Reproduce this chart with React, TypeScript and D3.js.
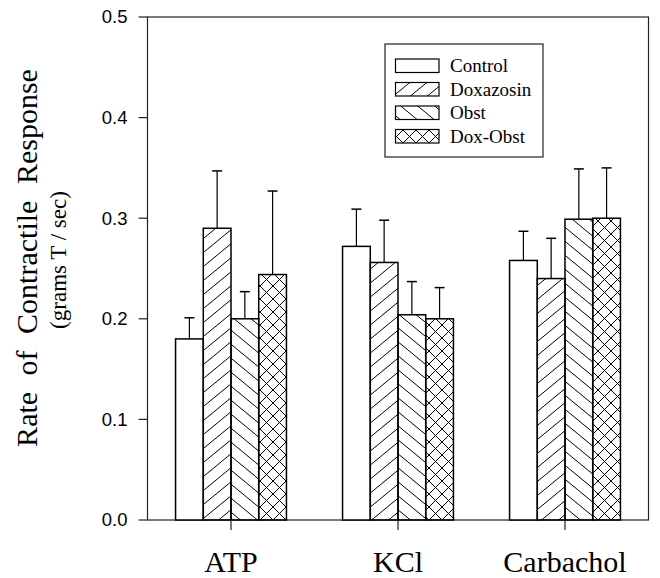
import React from "react";
import * as d3 from "d3";

// stimulus groups and treatment series
const categories = ["ATP", "KCl", "Carbachol"];
const seriesNames = ["Control", "Doxazosin", "Obst", "Dox-Obst"];

// mean rate (grams T / sec) per category
const control = [0.18, 0.272, 0.258];
const doxazosin = [0.29, 0.256, 0.24];
const obst = [0.2, 0.204, 0.299];
const doxObst = [0.244, 0.2, 0.3];

// upper error (SEM)
const controlErr = [0.021, 0.037, 0.029];
const doxazosinErr = [0.057, 0.042, 0.04];
const obstErr = [0.027, 0.033, 0.05];
const doxObstErr = [0.083, 0.031, 0.05];

const yTicks = [0, 0.1, 0.2, 0.3, 0.4, 0.5];

const W = 660;
const H = 578;
const plot = { left: 147.5, right: 648.5, top: 17, bottom: 520 };

const fills = ["#fff", "url(#hatchFwd)", "url(#hatchBack)", "url(#hatchCross)"];

export default function App() {
  const values = [control, doxazosin, obst, doxObst];
  const errs = [controlErr, doxazosinErr, obstErr, doxObstErr];

  const x = d3
    .scaleBand()
    .domain(categories)
    .range([plot.left, plot.right])
    .paddingInner(0.336)
    .paddingOuter(0.168);
  const xs = d3.scaleBand().domain(seriesNames).range([0, x.bandwidth()]);
  const y = d3.scaleLinear().domain([0, 0.5]).range([plot.bottom, plot.top]);

  const serif = "'Liberation Serif', 'Times New Roman', serif";
  const sans = "'Liberation Sans', Arial, sans-serif";

  const legendX = 395.5;
  const legendY = 59;
  const rowH = 23.5;

  return (
    <svg
      width={W}
      height={H}
      style={{ position: "absolute", left: 0, top: 0, background: "#fff" }}
    >
      <defs>
        <pattern id="hatchFwd" patternUnits="userSpaceOnUse" width={17} height={14}>
          <path d="M-17,14 L0,0 M0,14 L17,0 M17,14 L34,0" stroke="#000" strokeWidth={1} />
        </pattern>
        <pattern id="hatchBack" patternUnits="userSpaceOnUse" width={17} height={14}>
          <path d="M-17,0 L0,14 M0,0 L17,14 M17,0 L34,14" stroke="#000" strokeWidth={1} />
        </pattern>
        <pattern id="hatchCross" patternUnits="userSpaceOnUse" width={13} height={13}>
          <path
            d="M-13,13 L0,0 M0,13 L13,0 M13,13 L26,0 M-13,0 L0,13 M0,0 L13,13 M13,0 L26,13"
            stroke="#000"
            strokeWidth={1}
          />
        </pattern>
      </defs>

      {/* frame */}
      <rect
        x={plot.left}
        y={plot.top}
        width={plot.right - plot.left}
        height={plot.bottom - plot.top}
        fill="none"
        stroke="#222"
        strokeWidth={1.2}
      />

      {/* bars */}
      {categories.map((c, i) => (
        <g key={c}>
          {seriesNames.map((s, j) => {
            const bx = (x(c) ?? 0) + (xs(s) ?? 0);
            const v = values[j][i];
            const top = y(v);
            const errTop = y(v + errs[j][i]);
            const cx = bx + xs.bandwidth() / 2;
            return (
              <g key={s}>
                <line x1={cx} x2={cx} y1={top} y2={errTop} stroke="#000" strokeWidth={1.2} />
                <line x1={cx - 5} x2={cx + 5} y1={errTop} y2={errTop} stroke="#000" strokeWidth={1.5} />
                <rect
                  x={bx}
                  y={top}
                  width={xs.bandwidth()}
                  height={plot.bottom - top}
                  fill={fills[j]}
                  stroke="#000"
                  strokeWidth={1.5}
                />
              </g>
            );
          })}
        </g>
      ))}

      {/* y axis */}
      {yTicks.map((t) => (
        <g key={t}>
          <line x1={plot.left - 9} x2={plot.left} y1={y(t)} y2={y(t)} stroke="#222" strokeWidth={1.2} />
          <text
            x={127.5}
            y={y(t)}
            dy="0.35em"
            textAnchor="end"
            fontFamily={sans}
            fontSize={18.5}
          >
            {t.toFixed(1)}
          </text>
        </g>
      ))}

      {/* x axis */}
      {categories.map((c) => {
        const cx = (x(c) ?? 0) + x.bandwidth() / 2;
        return (
          <g key={c}>
            <line x1={cx} x2={cx} y1={plot.bottom} y2={plot.bottom + 10} stroke="#222" strokeWidth={1.2} />
            <text x={cx} y={572} textAnchor="middle" fontFamily={serif} fontSize={30}>
              {c}
            </text>
          </g>
        );
      })}

      {/* axis titles */}
      <text
        transform="translate(37,258) rotate(-90)"
        textAnchor="middle"
        fontFamily={serif}
        fontSize={30}
        wordSpacing={9}
      >
        Rate of Contractile Response
      </text>
      <text
        transform="translate(66,260) rotate(-90)"
        textAnchor="middle"
        fontFamily={serif}
        fontSize={23}
      >
        (grams T / sec)
      </text>

      {/* legend */}
      <rect x={385} y={44} width={158} height={113} fill="#fff" stroke="#222" strokeWidth={1.2} />
      {seriesNames.map((s, j) => (
        <g key={s}>
          <rect
            x={legendX}
            y={legendY + j * rowH}
            width={43.5}
            height={13.5}
            fill={fills[j]}
            stroke="#000"
            strokeWidth={1.2}
          />
          <text x={450} y={legendY + j * rowH + 13} fontFamily={serif} fontSize={19}>
            {s}
          </text>
        </g>
      ))}
    </svg>
  );
}
